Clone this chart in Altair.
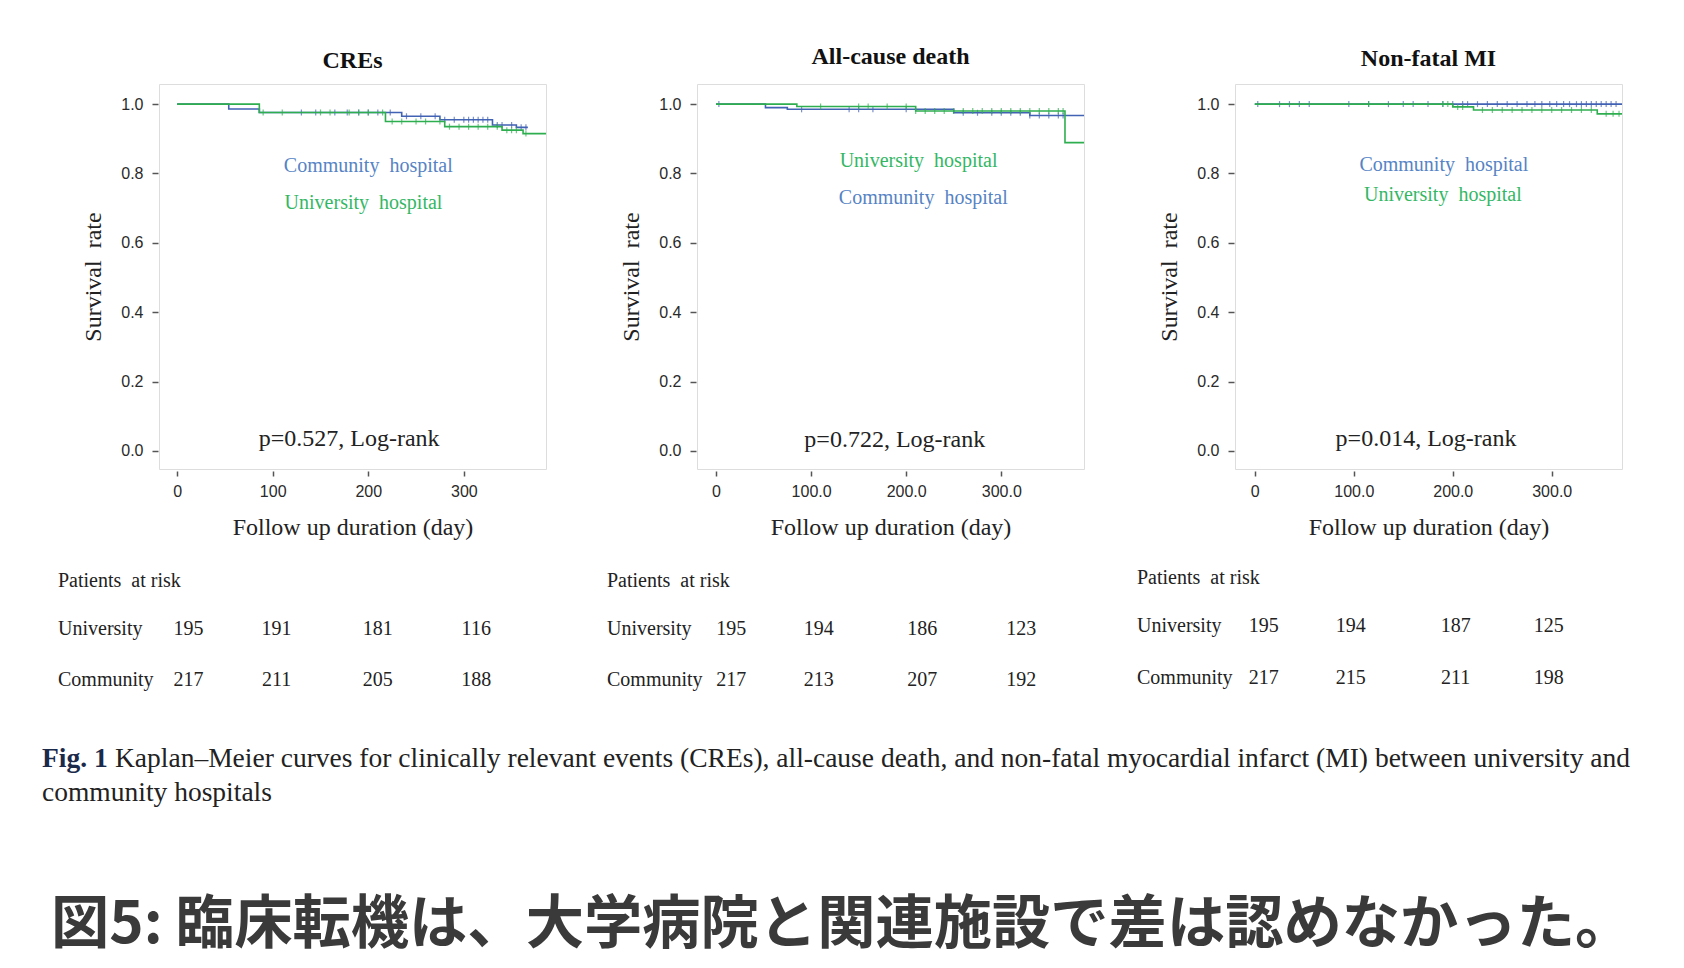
import altair as alt
import pandas as pd

# ---------------- data ----------------
BLUE = "#4262b4"
GREEN = "#2fae50"
BLUE_TXT = "#5683c4"
GREEN_TXT = "#34b765"

# CREs
cre_comm_t = [0, 54, 86, 235, 275, 330, 355, 367]
cre_comm_s = [1.0, 0.986, 0.976, 0.965, 0.955, 0.940, 0.933, 0.933]
cre_comm_c = [130, 145, 165, 178, 190, 200, 210, 223, 240, 255, 270, 280, 290, 300, 305,
              310, 315, 320, 325, 335, 340, 350, 360, 365]
cre_univ_t = [0, 86, 218, 280, 340, 362, 386]
cre_univ_s = [1.0, 0.976, 0.950, 0.935, 0.925, 0.915, 0.915]
cre_univ_c = [90, 110, 150, 160, 180, 190, 200, 215, 225, 235, 250, 260, 275, 285, 295,
              305, 315, 325, 335, 345, 350, 355, 365]

# All-cause death
death_comm_t = [0, 52, 75, 250, 330, 387]
death_comm_s = [1.0, 0.990, 0.985, 0.975, 0.967, 0.967]
death_comm_c = [3, 90, 140, 150, 165, 200, 260, 275, 290, 300, 310, 320, 330, 340, 350, 360, 365]
death_univ_t = [0, 85, 210, 367, 387]
death_univ_s = [1.0, 0.993, 0.980, 0.889, 0.889]
death_univ_c = [110, 150, 160, 180, 200, 210, 220, 230, 240, 250, 260, 270, 280, 290, 300,
                310, 320, 330, 340, 350, 360, 365]

# Non-fatal MI
mi_comm_t = [0, 371]
mi_comm_s = [1.0, 1.0]
mi_comm_c = [3, 25, 35, 45, 55, 95, 115, 135, 150, 160, 175, 190, 200, 210, 215, 225, 235, 245,
             255, 265, 275, 283, 290, 298, 305, 312, 318, 325, 330, 335, 340, 345, 350, 355, 360, 365]
mi_univ_t = [0, 200, 221, 346, 371]
mi_univ_s = [1.0, 0.992, 0.983, 0.972, 0.972]
mi_univ_c = [115, 190, 195, 205, 210, 230, 240, 250, 260, 270, 280, 290, 300, 310, 320, 330,
             340, 355, 362, 368]

# Patients at risk (values per column)
cre_risk_univ = [195, 191, 181, 116]
cre_risk_comm = [217, 211, 205, 188]
death_risk_univ = [195, 194, 186, 123]
death_risk_comm = [217, 213, 207, 192]
mi_risk_univ = [195, 194, 187, 125]
mi_risk_comm = [217, 215, 211, 198]

y_ticks = [0.0, 0.2, 0.4, 0.6, 0.8, 1.0]
x_ticks = [0, 100, 200, 300]

SERIF = "Liberation Serif"
SANS = "Liberation Sans"
W, H = 387, 385


def surv_at(t, times, surv):
    v = surv[0]
    for tt, ss in zip(times, surv):
        if tt <= t:
            v = ss
    return v


def panel(cfg):
    xd = cfg["xdomain"]
    lab_expr = "format(datum.value, 'd')" if cfg["intfmt"] else \
        "datum.value == 0 ? '0' : format(datum.value, '.1f')"
    X = alt.X("t:Q", scale=alt.Scale(domain=xd, nice=False, zero=False),
              axis=alt.Axis(values=x_ticks, labelExpr=lab_expr, domain=False, grid=False,
                            tickSize=5, tickWidth=1.5, tickColor="#555", offset=2,
                            labelFont=SANS, labelFontSize=16, labelColor="#2a2a2a", labelPadding=7,
                            title="Follow up duration (day)", titleFont=SERIF, titleFontSize=24,
                            titleFontWeight="normal", titleColor="#222", titlePadding=16))
    Y = alt.Y("s:Q", scale=alt.Scale(domain=[-0.052, 1.058], nice=False, zero=False),
              axis=alt.Axis(values=y_ticks, format=".1f", domain=False, grid=False,
                            tickSize=6, tickWidth=1.5, tickColor="#555", offset=1,
                            labelFont=SANS, labelFontSize=16, labelColor="#2a2a2a", labelPadding=9,
                            title="Survival\u00a0 rate", titleFont=SERIF, titleFontSize=24,
                            titleFontWeight="normal", titleColor="#222", titlePadding=15))
    layers = []
    for times, surv, cens, col in cfg["curves"]:
        df = pd.DataFrame({"t": times, "s": surv})
        layers.append(alt.Chart(df).mark_line(interpolate="step-after", color=col,
                                              strokeWidth=1.6).encode(x=X, y=Y))
        cdf = pd.DataFrame({"t": cens, "s": [surv_at(c, times, surv) for c in cens]})
        layers.append(alt.Chart(cdf).mark_point(shape="M0,-1L0,1", size=36, color=col,
                                                strokeWidth=1.2, filled=False).encode(x=X, y=Y))
    for label, t, s, col in cfg["legend"]:
        df = pd.DataFrame({"t": [t], "s": [s], "label": [label]})
        layers.append(alt.Chart(df).mark_text(font=SERIF, fontSize=20, color=col,
                                              align="center", baseline="middle")
                      .encode(x=X, y=Y, text="label:N"))
    ptxt, pt, ps = cfg["p"]
    df = pd.DataFrame({"t": [pt], "s": [ps], "label": [ptxt]})
    layers.append(alt.Chart(df).mark_text(font=SERIF, fontSize=24, color="#222",
                                          align="center", baseline="middle")
                  .encode(x=X, y=Y, text="label:N"))
    # risk table
    rx = cfg["risk_x"]
    ry0, ry1, ry2 = cfg["risk_y"]
    for lab, yy in zip(["Patients\u00a0 at risk", "University", "Community"], [ry0, ry1, ry2]):
        d = pd.DataFrame({"label": [lab]})
        layers.append(alt.Chart(d).mark_text(font=SERIF, fontSize=20, color="#222",
                                             align="left", baseline="middle")
                      .encode(x=alt.value(rx), y=alt.value(yy), text="label:N"))
    for vals, yy in [(cfg["risk_univ"], ry1), (cfg["risk_comm"], ry2)]:
        d = pd.DataFrame({"t": cfg["risk_cols"], "label": [str(v) for v in vals]})
        layers.append(alt.Chart(d).mark_text(font=SERIF, fontSize=20, color="#222",
                                             align="center", baseline="middle")
                      .encode(x=X, y=alt.value(yy), text="label:N"))
    for lab, xx, yy, fnt, fs, fw, col in cfg.get("extra", []):
        d = pd.DataFrame({"label": [lab]})
        layers.append(alt.Chart(d).mark_text(font=fnt, fontSize=fs, fontWeight=fw, color=col,
                                             align="left", baseline="middle")
                      .encode(x=alt.value(xx), y=alt.value(yy), text="label:N"))
    return alt.layer(*layers).properties(
        width=W, height=H,
        title=alt.TitleParams(cfg["title"], font=SERIF, fontSize=24, fontWeight="bold",
                              color="#111", anchor="middle", frame="group",
                              baseline="bottom", offset=cfg["toff"]))


caption1 = ("Kaplan\u2013Meier curves for clinically relevant events (CREs), all-cause death, "
            "and non-fatal myocardial infarct (MI) between university and")
caption2 = "community hospitals"
headline = "図5: 臨床転機は、大学病院と関連施設で差は認めなかった。"

cfgs = [
    dict(title="CREs", toff=-13, xdomain=[-19, 386], intfmt=True,
         curves=[(cre_comm_t, cre_comm_s, cre_comm_c, BLUE),
                 (cre_univ_t, cre_univ_s, cre_univ_c, GREEN)],
         legend=[("Community\u00a0 hospital", 200, 0.821, BLUE_TXT),
                 ("University\u00a0 hospital", 195, 0.715, GREEN_TXT)],
         p=("p=0.527, Log-rank", 180, 0.035),
         risk_x=-101, risk_y=[497, 545, 596], risk_cols=[12, 104, 210, 313],
         risk_univ=cre_risk_univ, risk_comm=cre_risk_comm,
         extra=[("Fig. 1", -117, 675, SERIF, 27.5, "bold", "#1b2a4a"),
                (caption1, -44, 675, SERIF, 27.5, "normal", "#222"),
                (caption2, -117, 709, SERIF, 27.5, "normal", "#222"),
                (headline, -108, 842, "Noto Sans CJK JP", 58.3, "bold", "#3a3a3a")]),
    dict(title="All-cause death", toff=-9, xdomain=[-20, 387], intfmt=False,
         curves=[(death_comm_t, death_comm_s, death_comm_c, BLUE),
                 (death_univ_t, death_univ_s, death_univ_c, GREEN)],
         legend=[("University\u00a0 hospital", 213, 0.836, GREEN_TXT),
                 ("Community\u00a0 hospital", 218, 0.730, BLUE_TXT)],
         p=("p=0.722, Log-rank", 188, 0.032),
         risk_x=-90, risk_y=[497, 545, 596], risk_cols=[16, 108, 217, 321],
         risk_univ=death_risk_univ, risk_comm=death_risk_comm),
    dict(title="Non-fatal MI", toff=-11, xdomain=[-20, 371], intfmt=False,
         curves=[(mi_comm_t, mi_comm_s, mi_comm_c, BLUE),
                 (mi_univ_t, mi_univ_s, mi_univ_c, GREEN)],
         legend=[("Community\u00a0 hospital", 191, 0.824, BLUE_TXT),
                 ("University\u00a0 hospital", 190, 0.738, GREEN_TXT)],
         p=("p=0.014, Log-rank", 173, 0.035),
         risk_x=-98, risk_y=[494, 542, 594], risk_cols=[9, 97, 203, 297],
         risk_univ=mi_risk_univ, risk_comm=mi_risk_comm),
]

chart = alt.hconcat(*[panel(c) for c in cfgs], spacing=151, bounds="flush").properties(
    padding={"left": 33, "top": 36, "right": 5, "bottom": 0}
).configure_view(stroke="#8c8c8c", strokeWidth=2.5).configure(background="white")

chart.save("out.html", embed_options={"renderer": "svg", "actions": False})
